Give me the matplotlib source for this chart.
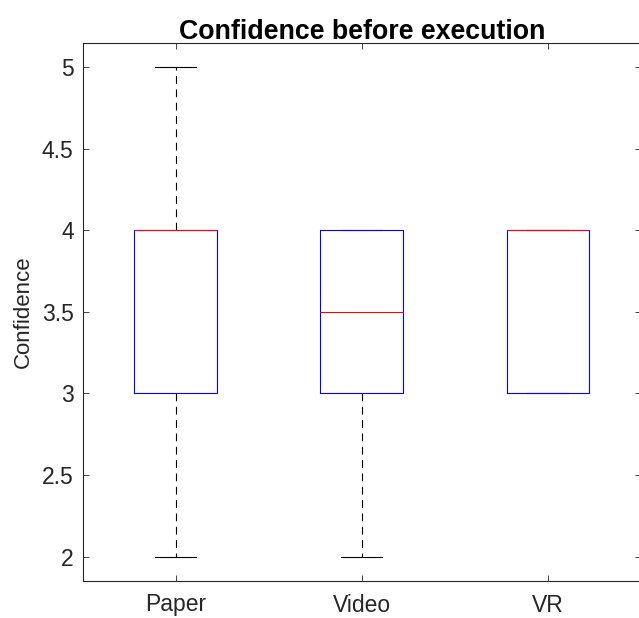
import matplotlib
matplotlib.use("Agg")
import matplotlib.pyplot as plt

# Box statistics
groups = ['Paper', 'Video', 'VR']
medians = [4.0, 3.5, 4.0]
q1 = [3.0, 3.0, 3.0]
q3 = [4.0, 4.0, 4.0]
whislo = [2.0, 2.0, 3.0]
whishi = [5.0, 4.0, 4.0]
yticks = [2, 2.5, 3, 3.5, 4, 4.5, 5]

plt.rcParams['font.family'] = ['Liberation Sans', 'DejaVu Sans']

fig = plt.figure(figsize=(6.39, 6.18), dpi=100)
W, H = 639, 618
left, right, top, bottom = 82.7, 641, 42.7, 581
ax = fig.add_axes([left / W, (H - bottom) / H, (right - left) / W, (bottom - top) / H])

stats = []
for i, g in enumerate(groups):
    stats.append({'label': g, 'med': medians[i], 'q1': q1[i], 'q3': q3[i],
                  'whislo': whislo[i], 'whishi': whishi[i], 'fliers': []})

parts = ax.bxp(stats, positions=[1, 2, 3], widths=0.445, showfliers=False,
               boxprops=dict(color='blue', linewidth=0.8),
               medianprops=dict(color='red', linewidth=0.8),
               whiskerprops=dict(color='black', linewidth=0.8, linestyle=(0, (7, 5))),
               capprops=dict(color='black', linewidth=0.8),
               capwidths=0.22)
# caps under boxes, median on top
for c in parts['caps']:
    c.set_zorder(1.5)
for w in parts['whiskers']:
    w.set_zorder(1.5)
for b in parts['boxes']:
    b.set_zorder(2)
for m in parts['medians']:
    m.set_zorder(2.5)

ax.set_xlim(0.5, 3.5)
ax.set_ylim(1.85, 5.15)
ax.set_yticks(yticks)
ax.set_yticklabels(['2', '2.5', '3', '3.5', '4', '4.5', '5'])
ax.set_xticks([1, 2, 3])
ax.set_xticklabels(groups)

for s in ax.spines.values():
    s.set_color('#262626')
    s.set_linewidth(0.8)
ax.tick_params(direction='in', length=4, width=0.6, colors='#262626',
               labelsize=16.5, top=True, right=True)
ax.tick_params(axis='y', pad=6.5)
ax.tick_params(axis='x', pad=9)
for lbl in ax.get_xticklabels() + ax.get_yticklabels():
    lbl.set_color('#262626')

ax.set_ylabel('Confidence', fontsize=16, color='#262626', labelpad=6)
ax.set_title('Confidence before execution', fontsize=19.3, fontweight='bold', pad=3)

fig.savefig('out.png', dpi=100)
